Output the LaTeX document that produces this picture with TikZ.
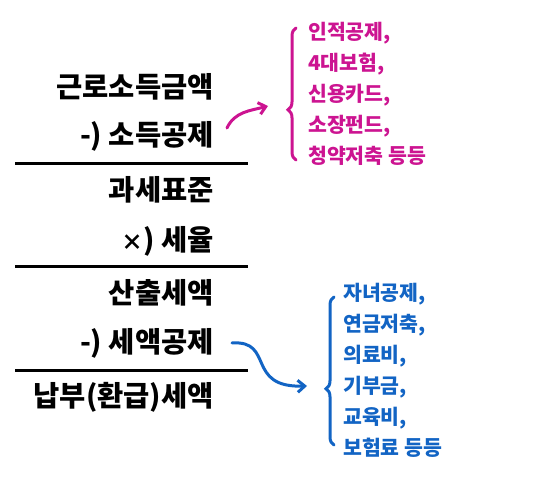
\documentclass[tikz,border=0pt]{standalone}
\usepackage{fontspec}
\newfontfamily\kor{Noto Sans CJK KR}
\usetikzlibrary{arrows.meta,decorations.pathreplacing}
\definecolor{penpink}{RGB}{204,20,145}
\definecolor{penblue}{RGB}{18,100,196}
\begin{document}
\begin{tikzpicture}[x=1pt,y=-1pt,
  calc/.style={anchor=east,inner sep=0pt,font=\kor\bfseries\fontsize{28.5}{28.5}\selectfont},
  note/.style={anchor=north west,inner sep=0pt,align=left,font=\kor\bfseries\fontsize{20.5}{31}\selectfont},
  rule/.style={line width=3pt},
  pen/.style={line width=3pt,line cap=round,-{Straight Barb[length=7pt,width=12pt]}},
  curly/.style={line width=3pt,line cap=round,decorate,decoration={brace,amplitude=8pt,aspect=0.38}}]
  \useasboundingbox (0,0) rectangle (550,500);
  \node[calc] (gross) at (214,87) {근로소득금액};
  \node[calc] (deduct) at (214,136) {-) 소득공제};
  \node[calc] (base) at (214,190) {과세표준};
  \node[calc] (rate) at (214,241) {{\fontsize{22}{22}\selectfont ×}) 세율};
  \node[calc] (calctax) at (214,293) {산출세액};
  \node[calc] (credit) at (214,343) {-) 세액공제};
  \node[calc] (final) at (214,397) {납부(환급)세액};
  \draw[rule] (15,164) -- (248,164);
  \draw[rule] (15,267) -- (248,267);
  \draw[rule] (15,371) -- (248,371);
  \node[note,text=penpink] (deductlist) at (308,22)
    {인적공제,\\4대보험,\\신용카드,\\소장펀드,\\청약저축 등등};
  \node[note,text=penblue] (creditlist) at (343,283)
    {자녀공제,\\연금저축,\\의료비,\\기부금,\\교육비,\\보험료 등등};
  \draw[curly,penpink] (296,160) -- (296,28) coordinate[pos=0.38,xshift=-9pt] (pinktip);
  \draw[curly,penblue] (334,445) -- (334,297) coordinate[pos=0.39,xshift=-9pt] (bluetip);
  \coordinate (pinkend) at (268,106);
  \coordinate (blueend) at (307,386);
  \draw[pen,penpink] ([xshift=13pt,yshift=8pt]deduct.east) to[out=65,in=195] (pinkend);
  \draw[pen,penblue] ([xshift=18pt]credit.east) .. controls (275,340) and (245,388) .. (blueend);
\end{tikzpicture}
\end{document}
